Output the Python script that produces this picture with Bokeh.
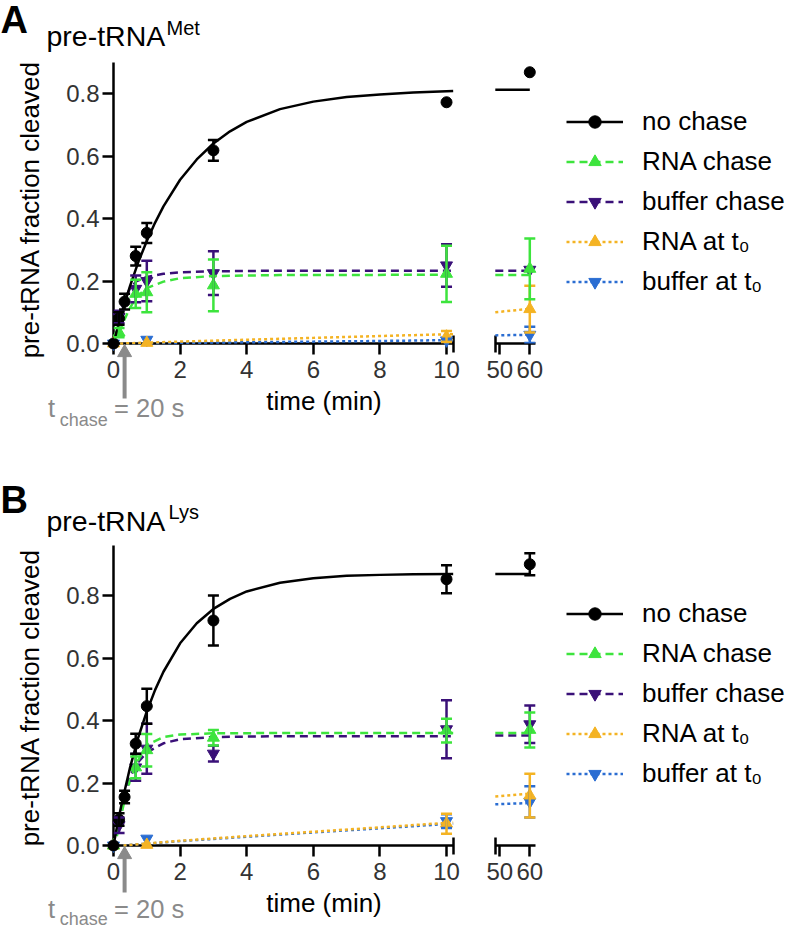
import math
from bokeh.plotting import figure
from bokeh.models import (ColumnDataSource, Whisker, TeeHead, FixedTicker, PrintfTickFormatter,
                          Legend, LegendItem, Range1d)
from bokeh.layouts import row, column
from bokeh.embed import file_html
from bokeh.resources import INLINE
from bokeh.core.properties import value

# ---------------- data (time in min, fraction cleaved) ----------------
T_CHASE = 20 / 60.0

labels = ["no chase", "RNA chase", "buffer chase", "RNA at t\u2080", "buffer at t\u2080"]

# Panel A: pre-tRNA Met
met_nochase_t = [0, 0.167, 0.333, 0.667, 1, 3, 10, 60]
met_nochase_y = [0.0, 0.08, 0.134, 0.28, 0.354, 0.618, 0.772, 0.868]
met_nochase_e = [0.0, 0.02, 0.025, 0.03, 0.032, 0.033, 0.0, 0.0]
met_nochase_fit_t = [0, 0.125, 0.25, 0.5, 0.75, 1, 1.25, 1.5, 2, 2.5, 3, 3.5, 4, 5, 6, 7, 8, 9, 10.2, 48.5, 60]
met_nochase_fit_y = [0, 0.051, 0.099, 0.185, 0.262, 0.328, 0.387, 0.439, 0.524, 0.589, 0.640, 0.679, 0.709,
                     0.750, 0.774, 0.789, 0.797, 0.803, 0.808, 0.812, 0.812]

met_rna_t = [0.167, 0.667, 1, 3, 10, 60]
met_rna_y = [0.035, 0.159, 0.164, 0.186, 0.223, 0.239]
met_rna_e = [0.015, 0.045, 0.064, 0.083, 0.09, 0.097]
met_rna_fit_t = [0.167, 0.3, 0.5, 0.7, 1, 1.5, 2, 3, 5, 10.2, 48.5, 60]
met_rna_fit_y = [0.035, 0.07, 0.115, 0.15, 0.177, 0.198, 0.209, 0.216, 0.219, 0.22, 0.219, 0.219]

met_buf_t = [0.167, 0.667, 1, 3, 10, 60]
met_buf_y = [0.085, 0.175, 0.2, 0.225, 0.25, 0.236]
met_buf_e = [0.02, 0.043, 0.065, 0.07, 0.068, 0.0]
met_buf_fit_t = [0.167, 0.3, 0.5, 0.7, 1, 1.5, 2, 3, 5, 10.2, 48.5, 60]
met_buf_fit_y = [0.075, 0.13, 0.178, 0.2, 0.213, 0.223, 0.228, 0.231, 0.233, 0.233, 0.233, 0.233]

met_rna0_t = [0, 1, 10, 60]
met_rna0_y = [0.0, 0.002, 0.022, 0.11]
met_rna0_e = [0.0, 0.0, 0.018, 0.075]
met_rna0_fit_t = [0.2, 2, 4, 6, 8, 10.2, 48.5, 60]
met_rna0_fit_y = [0.0, 0.006, 0.012, 0.018, 0.024, 0.03, 0.1, 0.111]

met_buf0_t = [0, 1, 10, 60]
met_buf0_y = [0.0, 0.012, 0.01, 0.028]
met_buf0_e = [0.0, 0.0, 0.005, 0.026]
met_buf0_fit_t = [0.2, 2, 4, 6, 8, 10.2, 48.5, 60]
met_buf0_fit_y = [0.0, 0.002, 0.004, 0.006, 0.008, 0.011, 0.026, 0.028]

# Panel B: pre-tRNA Lys
lys_nochase_t = [0, 0.167, 0.333, 0.667, 1, 3, 10, 60]
lys_nochase_y = [0.0, 0.083, 0.155, 0.326, 0.446, 0.72, 0.852, 0.9]
lys_nochase_e = [0.0, 0.02, 0.02, 0.032, 0.056, 0.08, 0.045, 0.035]
lys_nochase_fit_t = [0, 0.125, 0.25, 0.5, 0.75, 1, 1.25, 1.5, 2, 2.5, 3, 3.5, 4, 5, 6, 7, 8, 9, 10.2, 48.5, 60]
lys_nochase_fit_y = [0, 0.071, 0.136, 0.251, 0.348, 0.429, 0.498, 0.556, 0.647, 0.711, 0.757, 0.789, 0.813,
                     0.841, 0.855, 0.863, 0.866, 0.868, 0.869, 0.869, 0.869]

lys_rna_t = [0, 0.667, 1, 3, 10, 60]
lys_rna_y = [0.0, 0.25, 0.305, 0.345, 0.368, 0.37]
lys_rna_e = [0.0, 0.035, 0.052, 0.025, 0.038, 0.056]
lys_rna_fit_t = [0.1, 0.3, 0.5, 0.7, 1, 1.5, 2, 3, 5, 10.2, 48.5, 60]
lys_rna_fit_y = [0.03, 0.13, 0.21, 0.265, 0.322, 0.347, 0.355, 0.359, 0.36, 0.36, 0.36, 0.36]

lys_buf_t = [0.167, 0.667, 1, 3, 10, 60]
lys_buf_y = [0.065, 0.25, 0.31, 0.294, 0.372, 0.388]
lys_buf_e = [0.025, 0.043, 0.08, 0.025, 0.093, 0.06]
lys_buf_fit_t = [0.167, 0.3, 0.5, 0.7, 1, 1.5, 2, 3, 5, 10.2, 48.5, 60]
lys_buf_fit_y = [0.07, 0.15, 0.222, 0.262, 0.298, 0.327, 0.34, 0.347, 0.35, 0.35, 0.352, 0.352]

lys_rna0_t = [0, 1, 10, 60]
lys_rna0_y = [0.0, 0.002, 0.07, 0.16]
lys_rna0_e = [0.0, 0.0, 0.032, 0.07]
lys_rna0_fit_t = [0.3, 2, 4, 6, 8, 10.2, 48.5, 60]
lys_rna0_fit_y = [0.0, 0.015, 0.03, 0.044, 0.058, 0.074, 0.157, 0.166]

lys_buf0_t = [0, 1, 10, 60]
lys_buf0_y = [0.0, 0.022, 0.078, 0.14]
lys_buf0_e = [0.0, 0.0, 0.022, 0.05]
lys_buf0_fit_t = [0.3, 2, 4, 6, 8, 10.2, 48.5, 60]
lys_buf0_fit_y = [0.0, 0.014, 0.028, 0.042, 0.055, 0.07, 0.132, 0.136]

y_ticks = [0.0, 0.2, 0.4, 0.6, 0.8]
x_ticks_left = [0, 2, 4, 6, 8, 10]
x_ticks_right = [50, 60]

# ---------------- styles ----------------
BLACK = "#000000"
GREEN = "#3de43d"
PURPLE = "#3a1078"
ORANGE = "#f4b323"
BLUE = "#2a6dd2"
GRAY = "#8a8a8a"
FONT = "Liberation Sans"

styles = [
    (BLACK, "solid", "circle", 11),
    (GREEN, "8 5", "triangle", 12),
    (PURPLE, "8 5", "inverted_triangle", 12),
    (ORANGE, "3 3", "triangle", 12),
    (BLUE, "3 3", "inverted_triangle", 12),
]

met_series = [
    (met_nochase_t, met_nochase_y, met_nochase_e, met_nochase_fit_t, met_nochase_fit_y),
    (met_rna_t, met_rna_y, met_rna_e, met_rna_fit_t, met_rna_fit_y),
    (met_buf_t, met_buf_y, met_buf_e, met_buf_fit_t, met_buf_fit_y),
    (met_rna0_t, met_rna0_y, met_rna0_e, met_rna0_fit_t, met_rna0_fit_y),
    (met_buf0_t, met_buf0_y, met_buf0_e, met_buf0_fit_t, met_buf0_fit_y),
]
lys_series = [
    (lys_nochase_t, lys_nochase_y, lys_nochase_e, lys_nochase_fit_t, lys_nochase_fit_y),
    (lys_rna_t, lys_rna_y, lys_rna_e, lys_rna_fit_t, lys_rna_fit_y),
    (lys_buf_t, lys_buf_y, lys_buf_e, lys_buf_fit_t, lys_buf_fit_y),
    (lys_rna0_t, lys_rna0_y, lys_rna0_e, lys_rna0_fit_t, lys_rna0_fit_y),
    (lys_buf0_t, lys_buf0_y, lys_buf0_e, lys_buf0_fit_t, lys_buf0_fit_y),
]

# ---------------- layout constants (pixels) ----------------
LEFT_BORDER = 113
FRAME_W1 = 353
X_END1 = 10.6
FRAME_W2 = 321
PX_PER_MIN = FRAME_W1 / X_END1
PX_PER_UNIT = 312.5
MID = 0.3465  # em-box middle above the alphabetic baseline


def style_axis(ax, standoff):
    ax.axis_line_width = 2.5
    ax.axis_line_color = BLACK
    ax.major_tick_line_width = 2.5
    ax.minor_tick_line_width = 2.5
    ax.major_tick_line_color = BLACK
    ax.minor_tick_line_color = BLACK
    ax.major_tick_in = 0
    ax.major_tick_out = 11
    ax.minor_tick_in = 8
    ax.minor_tick_out = 9
    ax.major_label_text_font = FONT
    ax.major_label_text_font_size = "24px"
    ax.major_label_text_color = "#333333"
    ax.major_label_standoff = standoff


def build_panel(fig_top, texts, series, frame_h, ybound, top_b, bot_b, legend_vy, arrow_tail_px):
    ytop = frame_h / PX_PER_UNIT
    y0_page = fig_top + top_b + frame_h
    yr = Range1d(0, ytop)
    common = dict(output_backend="svg", toolbar_location=None, frame_height=frame_h,
                  min_border_top=top_b, min_border_bottom=bot_b, y_range=yr)
    p1 = figure(frame_width=FRAME_W1, x_range=Range1d(0, X_END1), min_border_left=LEFT_BORDER,
                min_border_right=0, **common)
    x2_start = 50 - (499.3 - (LEFT_BORDER + FRAME_W1)) / 3.0
    p2 = figure(frame_width=FRAME_W2, x_range=Range1d(x2_start, x2_start + FRAME_W2 / 3.0),
                min_border_left=0, min_border_right=0, y_axis_location=None, **common)
    for p in (p1, p2):
        p.outline_line_color = None
        p.xgrid.visible = False
        p.ygrid.visible = False
        p.background_fill_color = "white"
        p.border_fill_color = "white"
        style_axis(p.xaxis[0], 6)
    style_axis(p1.yaxis[0], 3)
    p1.yaxis[0].ticker = FixedTicker(ticks=y_ticks, minor_ticks=[])
    p1.yaxis[0].formatter = PrintfTickFormatter(format="%.1f")
    p1.yaxis[0].bounds = (0, ybound)
    p1.xaxis[0].ticker = FixedTicker(ticks=x_ticks_left, minor_ticks=[10.2])
    p1.xaxis[0].bounds = (0, 10.2)
    p2.xaxis[0].ticker = FixedTicker(ticks=x_ticks_right, minor_ticks=[48.4])
    p2.xaxis[0].bounds = (48.4, 62)

    rend = {}
    for i in [4, 3, 2, 1, 0]:
        t, y, e, ft, fy = series[i]
        color, dash, marker, size = styles[i]
        for p, lo, hi in ((p1, -1, 11), (p2, 40, 70)):
            sel = [k for k in range(len(ft)) if lo <= ft[k] <= hi]
            lr = p.line([ft[k] for k in sel], [fy[k] for k in sel], line_color=color,
                        line_width=2.5, line_dash=dash, level="overlay")
            ps = [k for k in range(len(t)) if lo <= t[k] <= hi]
            es = [k for k in ps if e[k] > 0]
            if es:
                src = ColumnDataSource(dict(t=[t[k] for k in es],
                                            lo=[y[k] - e[k] for k in es],
                                            hi=[y[k] + e[k] for k in es]))
                p.add_layout(Whisker(source=src, base="t", upper="hi", lower="lo",
                                     dimension="height", line_color=color, line_width=2.5,
                                     upper_head=TeeHead(size=11, line_color=color, line_width=2.5),
                                     lower_head=TeeHead(size=11, line_color=color, line_width=2.5),
                                     level="overlay"))
            sr = p.scatter([t[k] for k in ps], [y[k] for k in ps], marker=marker, size=size,
                           fill_color=color, line_color=color, level="overlay")
            if p is p2:
                rend[i] = [lr, sr]
    items = [LegendItem(label=labels[i], renderers=rend[i]) for i in range(5)]
    leg = Legend(items=items, location=(100, legend_vy), orientation="vertical",
                 glyph_width=57, glyph_height=31, label_height=31, label_standoff=19,
                 spacing=9, padding=0, margin=0, border_line_color=None,
                 background_fill_alpha=0, label_text_font=FONT,
                 label_text_font_size="26px", label_text_color=BLACK)
    p2.add_layout(leg)

    def dx(px):
        return (px - LEFT_BORDER) / PX_PER_MIN

    def dy(py):
        return (y0_page - py) / PX_PER_UNIT

    # texts: (text, x px, alphabetic baseline px (or centre for rotated), size px, colour, style, align, angle)
    for (txt, px, py, size, color, style, align, angle) in texts:
        if angle == 0:
            py = py - MID * size
        p1.text(x=[dx(px)], y=[dy(py)], text=[txt], text_font=value(FONT),
                text_font_size=value("%gpx" % size), text_color=color,
                text_font_style=value(style), text_align=value(align),
                text_baseline=value("middle"), angle=angle, level="overlay")

    # arrow marking the chase time
    head_size = 14
    tip_px = y0_page + 1
    head_center_px = tip_px + head_size * math.sqrt(3) / 2 * 2 / 3
    p1.segment(x0=[T_CHASE], y0=[dy(arrow_tail_px)], x1=[T_CHASE], y1=[dy(head_center_px)],
               line_color=GRAY, line_width=4, level="overlay")
    p1.scatter([T_CHASE], [dy(head_center_px)], marker="triangle", size=head_size,
               fill_color=GRAY, line_color=GRAY, level="overlay")
    return row(p1, p2)


def panel_texts(letter, letter_base, sup, sup_x, title_base, sup_base, ylab_y, axis_page,
                main_off, sub_off):
    return [
        (letter, 0, letter_base, 38, BLACK, "bold", "left", 0),
        ("pre-tRNA", 46, title_base, 28.5, BLACK, "normal", "left", 0),
        (sup, sup_x, sup_base, 20, BLACK, "normal", "left", 0),
        ("pre-tRNA fraction cleaved", 29, ylab_y, 26, BLACK, "normal", "center", math.pi / 2),
        ("time (min)", 323.5, axis_page + 67, 26, BLACK, "normal", "center", 0),
        ("t", 47.6, axis_page + main_off, 25.5, GRAY, "normal", "left", 0),
        ("chase", 59.3, axis_page + sub_off, 18, GRAY, "normal", "left", 0),
        ("= 20 s", 113.6, axis_page + main_off, 25.5, GRAY, "normal", "left", 0),
    ]


panel_a = build_panel(0, panel_texts("A", 33, "Met", 166, 45, 34, 209, 343, 73, 83), met_series,
                      frame_h=290, ybound=0.9, top_b=53, bot_b=127, legend_vy=46,
                      arrow_tail_px=398)
panel_b = build_panel(470, panel_texts("B", 513, "Lys", 168, 530, 518, 697, 845, 72, 80), lys_series,
                      frame_h=305, ybound=0.96, top_b=70, bot_b=89, legend_vy=56,
                      arrow_tail_px=892)

layout = column(panel_a, panel_b)
open("out.html", "w").write(file_html(layout, INLINE, title="pre-tRNA cleavage"))
